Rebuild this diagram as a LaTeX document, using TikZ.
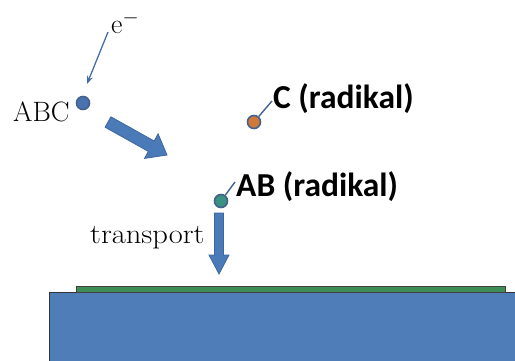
\documentclass[tikz,border=0pt]{standalone}
\usepackage{fontspec}
\newfontfamily\calib{Carlito}
\usetikzlibrary{arrows.meta}
\definecolor{arrblue}{HTML}{4A7AB8}
\definecolor{arrline}{HTML}{3D669E}
\definecolor{subblue}{HTML}{4E7DB8}
\definecolor{filmgreen}{HTML}{3E8E56}
\definecolor{dotblue}{HTML}{4A72B0}
\definecolor{dotorange}{HTML}{D0783A}
\definecolor{dotteal}{HTML}{3A9282}
\definecolor{dotrim}{HTML}{44628E}
\tikzset{
  dot/.style={circle, draw=dotrim, line width=1.6pt, minimum size=13pt, inner sep=0pt},
  serif/.style={font=\fontsize{28}{30}\selectfont, inner sep=0pt, anchor=base west},
  boldlbl/.style={font=\calib\bfseries\fontsize{33.5}{35}\selectfont, inner sep=0pt, anchor=base west},
  block/.style={fill=arrblue, draw=arrline, line width=0.8pt, line join=miter},
  leader/.style={draw=dotrim, line width=1.4pt}
}
\begin{document}
\begin{tikzpicture}[x=1pt,y=-1pt]
\useasboundingbox (0,0) rectangle (515,360);
% substrate and film
\draw[fill=subblue, draw=black!80, line width=1pt] (49,292) rectangle (518,364);
\draw[fill=filmgreen, draw=black!75, line width=0.9pt] (76,286.5) rectangle (505,292);
% labels
\node[serif] (elab) at (111,33) {e$^{-}$};
\node[serif] (abclab) at (13,121) {ABC};
\node[serif, xscale=1.09] (translab) at (90,243) {transport};
\node[boldlbl] (clab) at (273,108) {C (radikal)};
\node[boldlbl] (ablab) at (236,196) {AB (radikal)};
% dots
\node[dot, fill=dotblue] (abc) at (83,103) {};
\node[dot, fill=dotorange] (c) at (254,122) {};
\node[dot, fill=dotteal] (ab) at (221,201) {};
% electron arrow
\coordinate (estart) at (108,32);
\draw[draw=arrblue!90!black, line width=1.3pt, -{Stealth[length=8pt,width=6pt]}] (estart) -- (87,84);
% leaders
\draw[leader] (c) -- (272,101);
\draw[leader] (ab) -- (235,182);
% big arrow
\draw[block] (105.1,127.2) -- (110.9,116.8) -- (154.2,141.0) -- (158.1,133.8) -- (167,155) -- (144.5,158.4) -- (148.4,151.4) -- cycle;
% transport arrow
\draw[block] (214.5,213) -- (223.5,213) -- (223.5,255) -- (229,255) -- (219,274) -- (209,255) -- (214.5,255) -- cycle;
\end{tikzpicture}
\end{document}
